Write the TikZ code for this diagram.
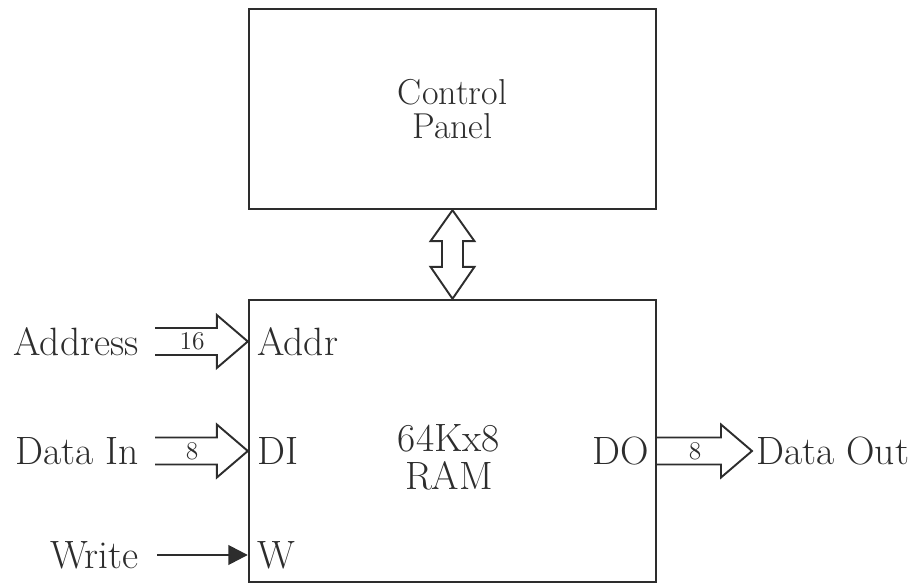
\documentclass[tikz,border=0pt]{standalone}
\usepackage{tikz}
\usetikzlibrary{positioning,arrows.meta,calc}
\definecolor{inkgray}{RGB}{45,45,45}
\newcommand{\busarrow}[3]{%
  \draw[bus] ($(#1)+(0,-13.5)$) -- ($(#2)+(-31,-13.5)$) -- ($(#2)+(-31,-26.5)$) -- (#2)
    -- ($(#2)+(-31,26.5)$) -- ($(#2)+(-31,13.5)$) -- ($(#1)+(0,13.5)$);
  \node[buswidth] at ($(#1)!.4!(#2)$) {#3};}
\begin{document}
\begin{tikzpicture}[x=0.02cm,y=-0.02cm,every node/.style={font=\fontsize{22.5}{20}\selectfont,text=inkgray},
    block/.style={draw=inkgray,line width=1.4pt,minimum width=8.14cm,align=center},
    bus/.style={draw=inkgray,line width=1.1pt,line join=miter},
    buswidth/.style={font=\fontsize{14.5}{15}\selectfont,inner sep=0pt},
    pin/.style={inner sep=0pt}]
    \useasboundingbox (0,0) rectangle (914,584);
    \node[block,minimum height=4cm,font=\fontsize{20.5}{19}\selectfont] (ctrl) at (452.5,109) {Control\\Panel};
    \node[block,minimum height=5.64cm] (ram) at (452.5,441) {};
    \node[align=center,inner sep=0pt,font=\fontsize{22.5}{21.5}\selectfont] (ramlbl) at (449,457) {64Kx8\\RAM};
    % pins
    \node[pin,anchor=west] (addr) at (257,342) {Addr};
    \node[pin,anchor=west] (di) at (257,451) {DI};
    \node[pin,anchor=west] (w) at (257,555) {W};
    \node[pin,anchor=east] (do) at (649,451) {DO};
    % outside signals
    \node[pin,anchor=east] (address) at (139,342) {Address};
    \node[pin,anchor=east] (datain) at (139,451) {Data In};
    \node[pin,anchor=east] (write) at (139,555) {Write};
    \node[pin,anchor=west] (dataout) at (756,451) {Data Out};
    \coordinate (addrtail) at (155,341.5);
    \coordinate (ditail) at (155,451);
    \coordinate (dotip) at (752,451);
    \coordinate (wtail) at (157,555);
    \busarrow{addrtail}{ram.west |- addrtail}{16}
    \busarrow{ditail}{ram.west |- ditail}{8}
    \busarrow{ram.east |- dotip}{dotip}{8}
    \draw[-{Triangle[length=11pt,width=11pt]},inkgray,line width=1.5pt] (wtail) -- (ram.west |- wtail);
    \draw[bus] (ctrl.south) -- ($(ctrl.south)+(22,31)$) -- ($(ctrl.south)+(10.5,31)$) -- ($(ram.north)+(10.5,-32)$)
      -- ($(ram.north)+(22,-32)$) -- (ram.north) -- ($(ram.north)+(-22,-32)$) -- ($(ram.north)+(-10.5,-32)$)
      -- ($(ctrl.south)+(-10.5,31)$) -- ($(ctrl.south)+(-22,31)$) -- cycle;
  \end{tikzpicture}
\end{document}
